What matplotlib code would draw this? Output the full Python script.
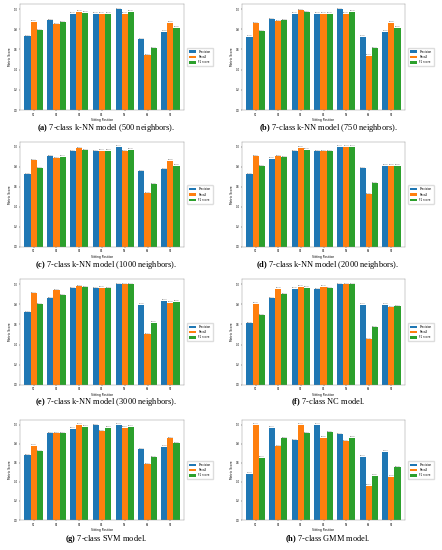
import numpy as np
import matplotlib.pyplot as plt

plt.rcParams['mathtext.fontset'] = 'custom'
plt.rcParams['mathtext.rm'] = 'Liberation Serif'
plt.rcParams['mathtext.bf'] = 'Liberation Serif:bold'

positions = ["S1", "S2", "S3", "S4", "S5", "S6", "S7"]
metrics = ["Precision", "Recall", "F1 score"]

# (a) k-NN 500
knn500_prec = [0.730, 0.890, 0.953, 0.953, 1.000, 0.700, 0.774]
knn500_rec = [0.874, 0.850, 0.973, 0.953, 0.953, 0.540, 0.864]
knn500_f1 = [0.790, 0.870, 0.963, 0.953, 0.973, 0.610, 0.814]
# (b) k-NN 750
knn750_prec = [0.724, 0.897, 0.953, 0.953, 1.000, 0.724, 0.774]
knn750_rec = [0.857, 0.880, 0.987, 0.953, 0.953, 0.535, 0.864]
knn750_f1 = [0.780, 0.887, 0.967, 0.953, 0.973, 0.610, 0.814]
# (c) k-NN 1000
knn1000_prec = [0.728, 0.907, 0.957, 0.957, 1.000, 0.757, 0.777]
knn1000_rec = [0.870, 0.890, 0.990, 0.960, 0.957, 0.538, 0.864]
knn1000_f1 = [0.787, 0.900, 0.970, 0.960, 0.973, 0.628, 0.814]
# (d) k-NN 2000
knn2000_prec = [0.728, 0.884, 0.957, 0.957, 1.000, 0.790, 0.814]
knn2000_rec = [0.907, 0.907, 0.993, 0.957, 1.000, 0.528, 0.814]
knn2000_f1 = [0.807, 0.897, 0.973, 0.957, 1.000, 0.638, 0.814]
# (e) k-NN 3000
knn3000_prec = [0.721, 0.860, 0.960, 0.957, 1.000, 0.794, 0.837]
knn3000_rec = [0.910, 0.937, 0.980, 0.963, 1.000, 0.505, 0.814]
knn3000_f1 = [0.800, 0.890, 0.967, 0.957, 1.000, 0.618, 0.824]
# (f) NC
nc_prec = [0.613, 0.860, 0.953, 0.950, 1.000, 0.797, 0.793]
nc_rec = [0.803, 0.953, 0.973, 0.973, 1.000, 0.453, 0.770]
nc_f1 = [0.693, 0.900, 0.963, 0.960, 1.000, 0.573, 0.780]
# (g) SVM
svm_prec = [0.679, 0.911, 0.960, 0.997, 1.000, 0.742, 0.768]
svm_rec = [0.778, 0.911, 1.000, 0.934, 0.967, 0.586, 0.861]
svm_f1 = [0.722, 0.911, 0.980, 0.967, 0.980, 0.659, 0.808]
# (h) GMM
gmm_prec = [0.487, 0.970, 0.838, 1.000, 0.900, 0.666, 0.715]
gmm_rec = [1.000, 0.775, 1.000, 0.864, 0.828, 0.361, 0.454]
gmm_f1 = [0.652, 0.861, 0.911, 0.924, 0.864, 0.464, 0.553]

panels = [
    (knn500_prec, knn500_rec, knn500_f1, "(a)", "7-class k-NN model (500 neighbors)."),
    (knn750_prec, knn750_rec, knn750_f1, "(b)", "7-class k-NN model (750 neighbors)."),
    (knn1000_prec, knn1000_rec, knn1000_f1, "(c)", "7-class k-NN model (1000 neighbors)."),
    (knn2000_prec, knn2000_rec, knn2000_f1, "(d)", "7-class k-NN model (2000 neighbors)."),
    (knn3000_prec, knn3000_rec, knn3000_f1, "(e)", "7-class k-NN model (3000 neighbors)."),
    (nc_prec, nc_rec, nc_f1, "(f)", "7-class NC model."),
    (svm_prec, svm_rec, svm_f1, "(g)", "7-class SVM model."),
    (gmm_prec, gmm_rec, gmm_f1, "(h)", "7-class GMM model."),
]

W, H = 442, 550
fig = plt.figure(figsize=(W / 100, H / 100), dpi=100)

# pixel layout per row: axes top, axes bottom, caption centre
rows = [(4, 110, 128), (142, 247, 265), (279, 385, 402), (420, 520, 539)]
cols = [(20, 184), (242, 405)]

colors = ["#1f77b4", "#ff7f0e", "#2ca02c"]
x = np.arange(len(positions))
w = 0.27

for i, (p, r, f, tag, cap) in enumerate(panels):
    top, bot, capy = rows[i // 2]
    left, right = cols[i % 2]
    ax = fig.add_axes([left / W, 1 - bot / H, (right - left) / W, (bot - top) / H])
    for j, vals in enumerate([p, r, f]):
        bars = ax.bar(x + (j - 1) * w, vals, w, color=colors[j], label=metrics[j])
        for b, v in zip(bars, vals):
            ax.text(b.get_x() + b.get_width() / 2, v + 0.005, f"{v:.4f}",
                    ha="center", va="bottom", fontsize=1.2, color="#444444")
    ax.set_xlim(-0.6, 6.6)
    ax.set_ylim(0, 1.05)
    ax.set_yticks([0, 0.2, 0.4, 0.6, 0.8, 1.0])
    ax.set_xticks(x)
    ax.set_xticklabels(positions)
    ax.tick_params(labelsize=1.8, length=1, width=0.3, pad=0.8)
    ax.set_xlabel("Sitting Position", fontsize=2.2, labelpad=0.8)
    ax.set_ylabel("Metric Score", fontsize=2.2, labelpad=1.5)
    for s in ax.spines.values():
        s.set_linewidth(0.3)
        s.set_color("#888888")
    ax.legend(loc="center left", bbox_to_anchor=(1.01, 0.5), fontsize=2.0,
              frameon=True, framealpha=1, edgecolor="#dddddd",
              handlelength=2.6, handleheight=0.9, borderpad=0.7)
    cx = (left + right) / 2 / W + 0.01
    fig.text(cx, 1 - capy / H, r"$\mathbf{" + tag + "}$ " + cap,
             ha="center", va="center", fontsize=6, family="Liberation Serif")

fig.savefig("out.png", dpi=100)
